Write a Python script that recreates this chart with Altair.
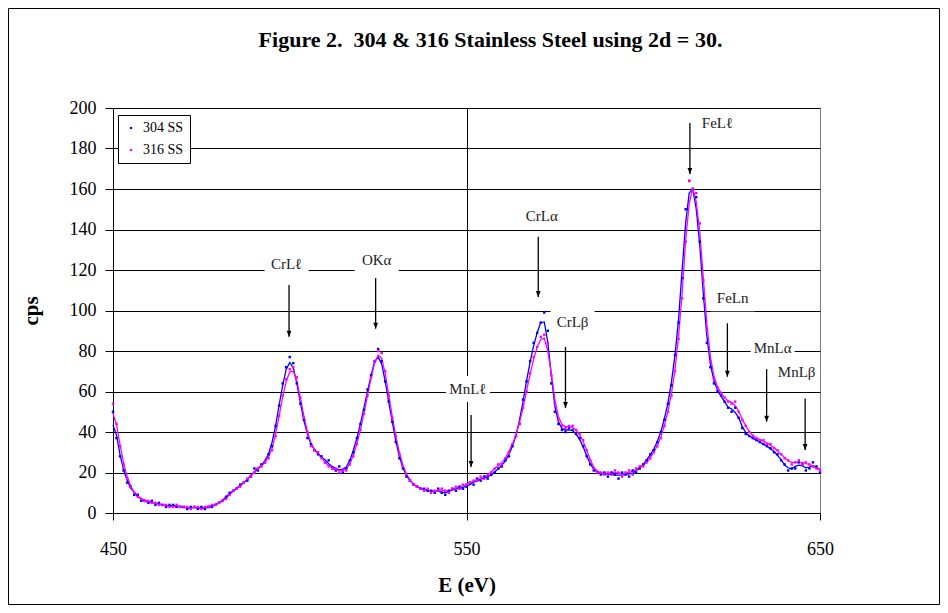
import altair as alt
import pandas as pd

# ---------------- data ----------------
energy = list(range(450, 651))  # eV

cps_304 = [
    50, 37, 28, 21, 15, 13, 9, 9, 6, 6,
    5, 6, 4, 5, 4, 3, 4, 4, 3, 3,
    3, 2, 3, 3, 2, 3, 2, 3, 3, 4,
    5, 6, 8, 10, 11, 12, 14, 15, 16, 18,
    22, 21, 24, 25, 29, 33, 43, 53, 64, 72,
    77, 74, 64, 54, 46, 37, 34, 31, 29, 28,
    25, 26, 22, 21, 23, 20, 22, 26, 30, 37,
    44, 51, 61, 68, 75, 81, 75, 65, 55, 45,
    35, 27, 22, 18, 16, 14, 13, 12, 12, 11,
    11, 10, 12, 10, 9, 11, 12, 11, 13, 12,
    13, 15, 14, 17, 16, 18, 17, 19, 20, 22,
    23, 26, 28, 33, 38, 44, 56, 65, 75, 84,
    89, 94, 99, 90, 64, 50, 44, 41, 40, 42,
    41, 39, 37, 33, 28, 24, 21, 20, 19, 20,
    18, 20, 19, 17, 20, 19, 18, 21, 20, 22,
    24, 26, 29, 31, 35, 40, 46, 54, 63, 78,
    94, 116, 150, 164, 160, 156, 134, 106, 84, 72,
    64, 60, 58, 55, 52, 50, 52, 47, 42, 39,
    38, 37, 36, 35, 34, 33, 32, 30, 29, 26,
    24, 21, 22, 22, 25, 24, 21, 22, 25, 23,
    20,
]

cps_316 = [
    54, 44, 33, 24, 17, 13, 10, 8, 7, 6,
    6, 5, 5, 4, 4, 4, 3, 3, 4, 3,
    3, 3, 2, 3, 3, 2, 3, 3, 4, 4,
    5, 6, 7, 9, 11, 12, 13, 15, 17, 18,
    20, 22, 23, 25, 27, 31, 38, 48, 58, 66,
    71, 72, 67, 57, 47, 40, 33, 31, 30, 27,
    25, 23, 22, 22, 20, 21, 21, 24, 28, 34,
    41, 49, 58, 67, 75, 80, 79, 70, 58, 47,
    38, 29, 23, 19, 16, 14, 13, 12, 11, 12,
    10, 11, 11, 12, 11, 10, 12, 13, 12, 14,
    14, 15, 16, 16, 18, 17, 19, 20, 22, 24,
    24, 27, 30, 34, 38, 44, 52, 60, 69, 77,
    82, 87, 88, 84, 68, 54, 46, 43, 42, 43,
    43, 41, 39, 36, 31, 26, 22, 20, 20, 19,
    20, 19, 21, 20, 18, 20, 21, 19, 22, 23,
    23, 25, 27, 30, 33, 37, 43, 50, 58, 70,
    86, 106, 134, 164, 160, 158, 143, 115, 90, 75,
    66, 62, 59, 57, 55, 54, 55, 50, 46, 43,
    40, 38, 37, 36, 36, 34, 34, 32, 31, 29,
    27, 26, 24, 25, 26, 24, 25, 24, 23, 22,
    21,
]

series_names = ["304 SS", "316 SS"]
series_colors = ["#0000FF", "#FF00FF"]

ann_labels = ["CrL\u2113", "OK\u03b1", "MnL\u2113", "CrL\u03b1", "CrL\u03b2",
              "FeL\u2113", "FeLn", "MnL\u03b1", "MnL\u03b2"]
ann_label_e = [499.1, 524.6, 550.4, 571.3, 580.0, 621.0, 625.3, 636.6, 643.4]
ann_label_cps = [123.0, 125.0, 61.2, 146.8, 94.5, 192.4, 106.0, 81.3, 69.8]
arrow_e = [499.8, 524.3, 551.3, 570.3, 578.0, 613.2, 623.8, 634.9, 645.8]
arrow_top = [112.6, 116.0, 48.4, 136.4, 82.1, 192.6, 93.7, 71.0, 56.6]
arrow_tip = [87.0, 91.0, 22.7, 106.7, 51.8, 167.4, 67.3, 45.1, 31.1]

x_ticks = [450, 550, 650]
y_ticks = list(range(0, 201, 20))

chart_title = "Figure 2.\u00a0 304 & 316 Stainless Steel using 2d = 30."

# ---------------- layout ----------------
W, H = 707, 405
X_DOM = [450, 650]
Y_DOM = [0, 200]
PX_PER_EV = W / (X_DOM[1] - X_DOM[0])
PX_PER_CPS = H / (Y_DOM[1] - Y_DOM[0])
BOX_W, BOX_H = 44, 26
SERIF = "Liberation Serif"

df = pd.DataFrame({
    "E": energy * 2,
    "cps": cps_304 + cps_316,
    "series": [series_names[0]] * len(energy) + [series_names[1]] * len(energy),
})

ann = pd.DataFrame({
    "label": ann_labels,
    "le": ann_label_e,
    "lc": ann_label_cps,
    "ae": arrow_e,
    "top": arrow_top,
    "tip": arrow_tip,
})
ann["bx1"] = ann["le"] - BOX_W / 2 / PX_PER_EV
ann["bx2"] = ann["le"] + BOX_W / 2 / PX_PER_EV
ann["by1"] = ann["lc"] - BOX_H / 2 / PX_PER_CPS
ann["by2"] = ann["lc"] + BOX_H / 2 / PX_PER_CPS

xs = alt.Scale(domain=X_DOM, nice=False, zero=False)
ys = alt.Scale(domain=Y_DOM, nice=False)

x_axis = alt.Axis(
    values=x_ticks, title="E (eV)", grid=True,
    gridColor={"condition": {"test": "datum.value == 650", "value": "#808080"}, "value": "#000000"},
    gridWidth=1, domainColor="black", tickColor="black", tickSize=7, labelFlush=False,
    labelFont=SERIF, labelFontSize=18, labelColor="black", labelPadding=20,
    titleFont=SERIF, titleFontSize=21, titleFontWeight="bold", titleColor="black",
    titlePadding=16, format="d",
)
y_axis = alt.Axis(
    values=y_ticks, title="cps", grid=True, gridColor="black", gridWidth=1,
    domainColor="black", tickColor="black", tickSize=8, labelFlush=False,
    labelFont=SERIF, labelFontSize=18, labelColor="black", labelPadding=9,
    titleFont=SERIF, titleFontSize=21, titleFontWeight="bold", titleColor="black",
    titlePadding=28,
)

legend = alt.Legend(
    orient="none", legendX=5, legendY=7, title=None,
    fillColor="white", strokeColor="black", padding=6, cornerRadius=0,
    labelFont=SERIF, labelFontSize=14, labelColor="black",
    symbolType="square", symbolSize=5, symbolStrokeWidth=0, rowPadding=8, labelOffset=5,
)
color_enc = alt.Color("series:N", scale=alt.Scale(domain=series_names, range=series_colors),
                      legend=legend)


def X(field):
    return alt.X(field, scale=xs, axis=x_axis)


def Y(field):
    return alt.Y(field, scale=ys, axis=y_axis)


boxes = alt.Chart(ann).mark_rect(fill="white").encode(
    x=X("bx1:Q"), x2="bx2:Q", y=Y("by1:Q"), y2="by2:Q",
)

lines = alt.Chart(df).transform_window(
    sm="mean(cps)", frame=[-1, 1], groupby=["series"], sort=[alt.SortField("E")]
).mark_line(strokeWidth=1.3).encode(
    x=X("E:Q"), y=Y("sm:Q"), color=color_enc,
)

points = alt.Chart(df).mark_square(size=6, opacity=1).encode(
    x=X("E:Q"), y=Y("cps:Q"), color=color_enc,
)

texts = alt.Chart(ann).mark_text(font=SERIF, fontSize=15, color="#222222").encode(
    x=X("le:Q"), y=Y("lc:Q"), text="label:N",
)

rules = alt.Chart(ann).mark_rule(color="black", strokeWidth=1.3).encode(
    x=X("ae:Q"), y=Y("top:Q"), y2="tip:Q",
)

heads = alt.Chart(ann).mark_point(
    shape="M-0.4,-1L0.4,-1L0,0Z", filled=True, size=144, color="black", opacity=1
).encode(
    x=X("ae:Q"), y=Y("tip:Q"),
)

frame = alt.Chart(pd.DataFrame({"k": [0]})).mark_rect(
    fillOpacity=0, stroke="black", strokeWidth=1
).encode(
    x=alt.value(-104.5), x2=alt.value(W + 119.5),
    y=alt.value(-99.5), y2=alt.value(H + 91.5),
)

title_text = alt.Chart(pd.DataFrame({"t": [chart_title]})).mark_text(
    font=SERIF, fontSize=22, fontWeight="bold", color="black", baseline="middle"
).encode(
    x=alt.value(W / 2 + 24), y=alt.value(-68), text="t:N",
)

chart = alt.layer(boxes, lines, points, texts, rules, heads, frame, title_text).properties(
    width=W, height=H,
    autosize=alt.AutoSizeParams(type="none"),
    padding={"left": 105, "top": 100, "right": 120, "bottom": 92},
).configure_view(stroke=None).configure(background="white")

chart.save("out.html", embed_options={"renderer": "svg", "actions": False})
